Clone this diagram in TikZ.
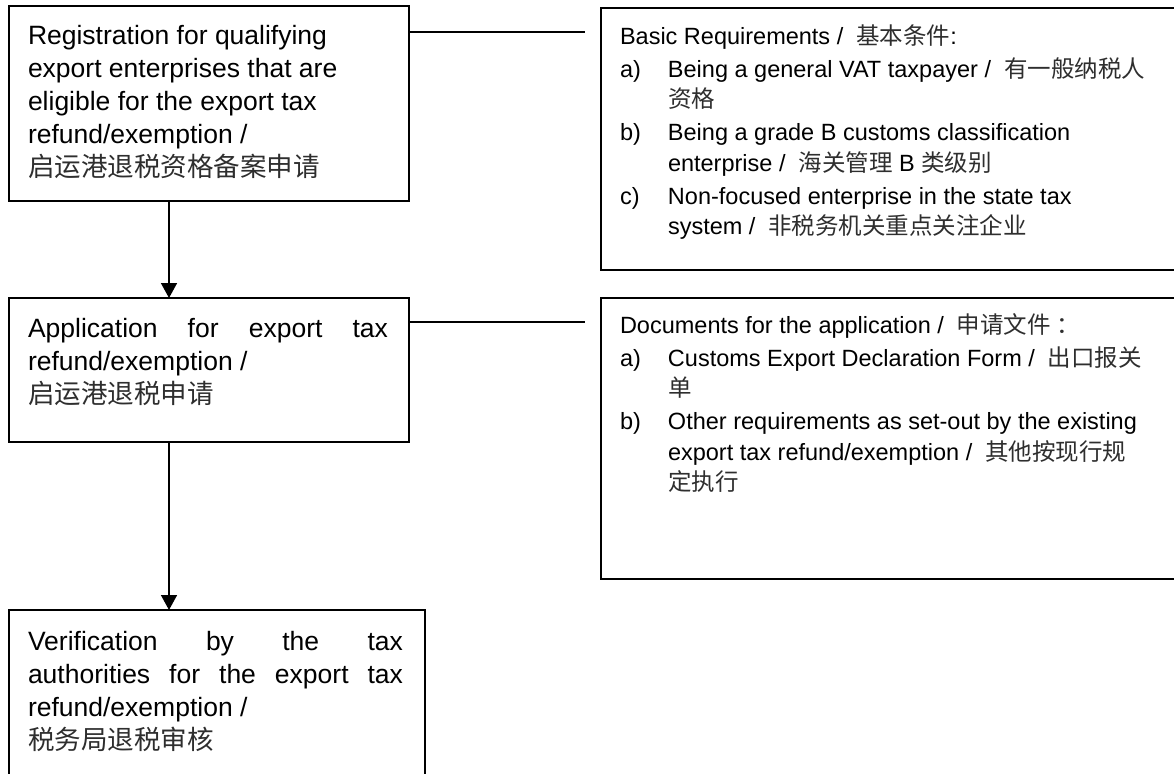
\documentclass[tikz,border=0pt]{standalone}
\usepackage{fontspec}
\setmainfont{Liberation Sans}
\newfontfamily\cjk{Noto Sans CJK SC}
\newcommand\zh[1]{{\cjk\color{black!82}#1}}
\usetikzlibrary{arrows.meta}
\begin{document}
\begin{tikzpicture}[x=1pt,y=-1pt,
  box/.style={draw, line width=1.8pt, inner sep=0pt, outer sep=0pt},
  link/.style={line width=1.8pt},
  arrow/.style={line width=1.6pt, -{Triangle[width=16pt,length=15pt]}},
  lefttext/.style={anchor=north west, inner sep=0pt, outer sep=0pt, align=left,
    font=\fontsize{26.5}{33}\selectfont},
  righttext/.style={anchor=north west, inner sep=0pt, outer sep=0pt, align=left,
    font=\fontsize{23.5}{30.5}\selectfont}]
\useasboundingbox (0,0) rectangle (1174,773);
\clip (0,0) rectangle (1174,773);

% boxes
\node[box, minimum width=400pt, minimum height=195pt] (b1) at (209,103.5) {};
\node[box, minimum width=400pt, minimum height=144pt] (b2) at (209,370) {};
\node[box, minimum width=416pt, minimum height=190pt] (b3) at (217,705) {};
\node[box, minimum width=599pt, minimum height=262pt] (r1) at (900.5,139) {};
\node[box, minimum width=599pt, minimum height=281pt] (r2) at (900.5,438.5) {};

% texts (first baseline = y + 23.1)
\node[lefttext] (t1) at (28,20.9) {\strut Registration for qualifying\\
export enterprises that are\\
eligible for the export tax\\
refund/exemption /\\
\zh{启运港退税资格备案申请}};

\node[lefttext] (t2) at (28,313.9) {\strut\hbox to 360pt{Application\hfill for\hfill export\hfill tax}\\
refund/exemption /\\
\zh{启运港退税申请}};

\node[lefttext] (t3) at (28,626.9) {\strut\hbox to 375pt{Verification\hfill by\hfill the\hfill tax}\\
\hbox to 375pt{authorities\hfill for\hfill the\hfill export\hfill tax}\\
refund/exemption /\\
\zh{税务局退税审核}};

\node[righttext] (rt1) at (620,22.65) {\strut Basic Requirements /\hspace{13pt}\zh{基本条件}:\\[2.5pt]
\makebox[48pt][l]{a)}Being a general VAT taxpayer /\hspace{13pt}\zh{有一般纳税人}\\
\hspace*{48pt}\zh{资格}\\[2.5pt]
\makebox[48pt][l]{b)}Being a grade B customs classification\\
\hspace*{48pt}enterprise /\hspace{13pt}\zh{海关管理} B \zh{类级别}\\[2.5pt]
\makebox[48pt][l]{c)}Non-focused enterprise in the state tax\\
\hspace*{48pt}system /\hspace{13pt}\zh{非税务机关重点关注企业}};

\node[righttext] (rt2) at (620,311.65) {\strut Documents for the application /\hspace{13pt}\zh{申请文件\hspace{6pt}：}\\[2.5pt]
\makebox[48pt][l]{a)}Customs Export Declaration Form /\hspace{13pt}\zh{出口报关}\\
\hspace*{48pt}\zh{单}\\[2.5pt]
\makebox[48pt][l]{b)}Other requirements as set-out by the existing\\
\hspace*{48pt}export tax refund/exemption /\hspace{13pt}\zh{其他按现行规}\\
\hspace*{48pt}\zh{定执行}};

% connectors
\coordinate (ax) at (169,0);
\coordinate (e1) at (585,32);
\coordinate (e2) at (585,322);
\draw[arrow] (b1.south -| ax) -- (b2.north -| ax);
\draw[arrow] (b2.south -| ax) -- (b3.north -| ax);
\draw[link] (b1.east |- e1) -- (e1);
\draw[link] (b2.east |- e2) -- (e2);
\end{tikzpicture}
\end{document}
